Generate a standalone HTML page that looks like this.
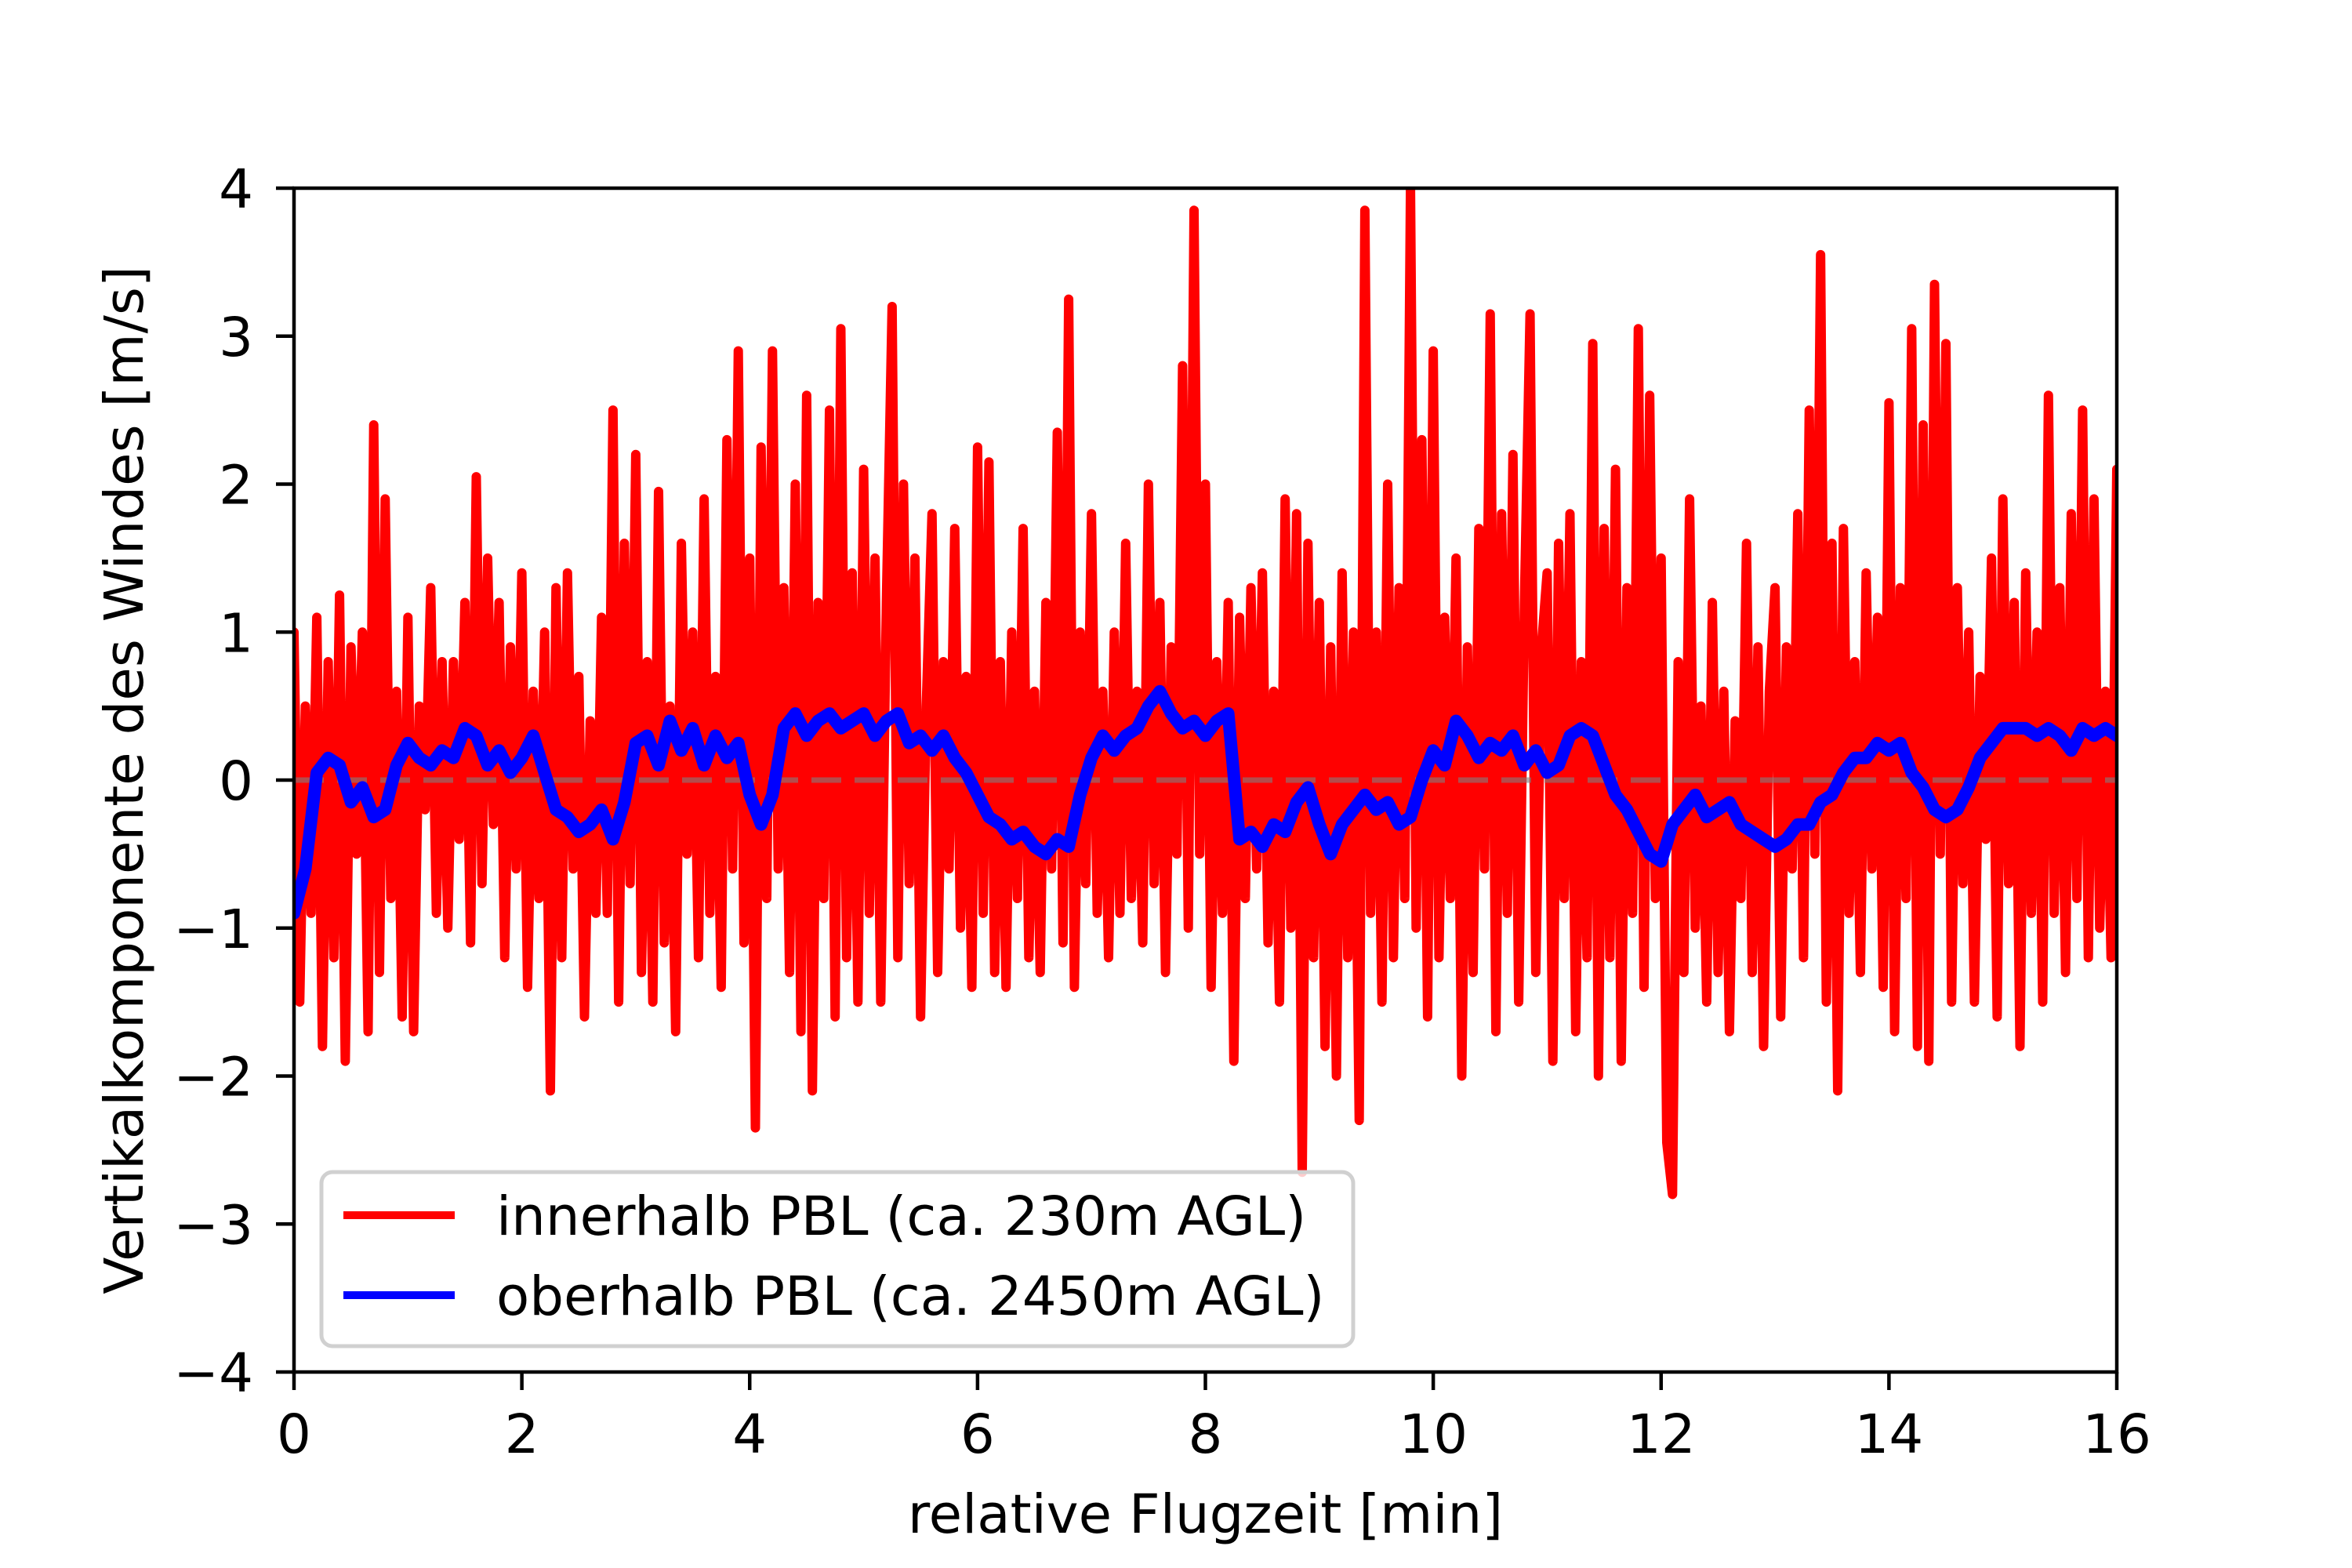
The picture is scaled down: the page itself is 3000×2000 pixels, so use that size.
<!DOCTYPE html>
<html><head><meta charset="utf-8"><style>
html,body{margin:0;padding:0;background:#fff}
svg{display:block}
text{font-family:"DejaVu Sans","Liberation Sans",sans-serif;fill:#000}
</style></head><body>
<svg id="chart" width="3000" height="2000" viewBox="0 0 3000 2000" xmlns="http://www.w3.org/2000/svg">
<defs><clipPath id="clip"><rect x="375" y="240" width="2325" height="1510"/></clipPath></defs>
<g id="plot" clip-path="url(#clip)"></g>
<g id="axes"></g>
</svg>
<script>
const xTicks=[0,2,4,6,8,10,12,14,16];
const yTicks=[-4,-3,-2,-1,0,1,2,3,4];
const redStep=0.05;
const redValues=[
1.0,-1.5,0.5,-0.9,1.1,-1.8,0.8,-1.2,1.25,-1.9,0.9,-0.5,1.0,-1.7,2.4,-1.3,1.9,-0.8,0.6,-1.6,
1.1,-1.7,0.5,-0.2,1.3,-0.9,0.8,-1.0,0.8,-0.4,1.2,-1.1,2.05,-0.7,1.5,-0.3,1.2,-1.2,0.9,-0.6,
1.4,-1.4,0.6,-0.8,1.0,-2.1,1.3,-1.2,1.4,-0.6,0.7,-1.6,0.4,-0.9,1.1,-0.9,2.5,-1.5,1.6,-0.7,
2.2,-1.3,0.8,-1.5,1.95,-1.1,0.5,-1.7,1.6,-0.5,1.0,-1.2,1.9,-0.9,0.7,-1.4,2.3,-0.6,2.9,-1.1,
1.5,-2.35,2.25,-0.8,2.9,-0.6,1.3,-1.3,2.0,-1.7,2.6,-2.1,1.2,-0.8,2.5,-1.6,3.05,-1.2,1.4,-1.5,
2.1,-0.9,1.5,-1.5,1.2,3.2,-1.2,2.0,-0.7,1.5,-1.6,0.5,1.8,-1.3,0.8,-0.6,1.7,-1.0,0.7,-1.4,
2.25,-0.9,2.15,-1.3,0.8,-1.4,1.0,-0.8,1.7,-1.2,0.6,-1.3,1.2,-0.6,2.35,-1.1,3.25,-1.4,1.0,-0.7,
1.8,-0.9,0.6,-1.2,1.0,-0.9,1.6,-0.8,0.6,-1.1,2.0,-0.7,1.2,-1.3,0.9,-0.5,2.8,-1.0,3.85,-0.5,
2.0,-1.4,0.8,-0.9,1.2,-1.9,1.1,-0.8,1.3,-0.6,1.4,-1.1,0.6,-1.5,1.9,-1.0,1.8,-2.65,1.6,-1.2,
1.2,-1.8,0.9,-2.0,1.4,-1.2,1.0,-2.3,3.85,-0.9,1.0,-1.5,2.0,-1.2,1.3,-0.8,4.0,-1.0,2.3,-1.6,
2.9,-1.2,1.1,-0.8,1.5,-2.0,0.9,-1.3,1.7,-0.6,3.15,-1.7,1.8,-0.9,2.2,-1.5,1.2,3.15,-1.3,0.9,
1.4,-1.9,1.6,-0.8,1.8,-1.7,0.8,-1.2,2.95,-2.0,1.7,-1.2,2.1,-1.9,1.3,-0.9,3.05,-1.4,2.6,-0.8,
1.5,-2.45,-2.8,0.8,-1.3,1.9,-1.0,0.5,-1.5,1.2,-1.3,0.6,-1.7,0.4,-0.8,1.6,-1.3,0.9,-1.8,0.6,
1.3,-1.6,0.9,-0.6,1.8,-1.2,2.5,-0.5,3.55,-1.5,1.6,-2.1,1.7,-0.9,0.8,-1.3,1.4,-0.6,1.1,-1.4,
2.55,-1.7,1.3,-0.8,3.05,-1.8,2.4,-1.9,3.35,-0.5,2.95,-1.5,1.3,-0.7,1.0,-1.5,0.7,-0.4,1.5,-1.6,
1.9,-0.7,1.2,-1.8,1.4,-0.9,1.0,-1.5,2.6,-0.9,1.3,-1.3,1.8,-0.8,2.5,-1.2,1.9,-1.0,0.6,-1.2,
2.1];
const blueStep=0.1;
const blueValues=[
-0.9,-0.6,0.05,0.15,0.1,-0.15,-0.05,-0.25,-0.2,0.1,
0.25,0.15,0.1,0.2,0.15,0.35,0.3,0.1,0.2,0.05,
0.15,0.3,0.05,-0.2,-0.25,-0.35,-0.3,-0.2,-0.4,-0.15,
0.25,0.3,0.1,0.4,0.2,0.35,0.1,0.3,0.15,0.25,
-0.1,-0.3,-0.1,0.35,0.45,0.3,0.4,0.45,0.35,0.4,
0.45,0.3,0.4,0.45,0.25,0.3,0.2,0.3,0.15,0.05,
-0.1,-0.25,-0.3,-0.4,-0.35,-0.45,-0.5,-0.4,-0.45,-0.1,
0.15,0.3,0.2,0.3,0.35,0.5,0.6,0.45,0.35,0.4,
0.3,0.4,0.45,-0.4,-0.35,-0.45,-0.3,-0.35,-0.15,-0.05,
-0.3,-0.5,-0.3,-0.2,-0.1,-0.2,-0.15,-0.3,-0.25,0.0,
0.2,0.1,0.4,0.3,0.15,0.25,0.2,0.3,0.1,0.2,
0.05,0.1,0.3,0.35,0.3,0.1,-0.1,-0.2,-0.35,-0.5,
-0.55,-0.3,-0.2,-0.1,-0.25,-0.2,-0.15,-0.3,-0.35,-0.4,
-0.45,-0.4,-0.3,-0.3,-0.15,-0.1,0.05,0.15,0.15,0.25,
0.2,0.25,0.05,-0.05,-0.2,-0.25,-0.2,-0.05,0.15,0.25,
0.35,0.35,0.35,0.3,0.35,0.3,0.2,0.35,0.3,0.35,
0.3];
const legendLabels=["innerhalb PBL (ca. 230m AGL)","oberhalb PBL (ca. 2450m AGL)"];

const L=375,R=2700,T=240,B=1750;
const xMin=0,xMax=16,yMin=-4,yMax=4;
function sx(v){return L+(v-xMin)/(xMax-xMin)*(R-L);}
function sy(v){return B-(v-yMin)/(yMax-yMin)*(B-T);}
const NS="http://www.w3.org/2000/svg";
function mk(tag,attrs,parent){const e=document.createElementNS(NS,tag);for(const k in attrs)e.setAttribute(k,attrs[k]);parent.appendChild(e);return e;}
const plot=document.getElementById('plot'),axes=document.getElementById('axes');

function pathFrom(vals,step){return vals.map((v,i)=>(i?'L':'M')+sx(i*step).toFixed(1)+','+sy(v).toFixed(1)).join('');}
const red=mk('path',{d:pathFrom(redValues,redStep),fill:'none',stroke:'#ff0000','stroke-width':12,'stroke-linejoin':'round','stroke-linecap':'round'},plot);


const zero=mk('line',{x1:L,x2:R,y1:sy(0),y2:sy(0),stroke:'#808080','stroke-opacity':0.6,'stroke-width':7,'stroke-dasharray':'38,17'},plot);


const blue=mk('path',{d:pathFrom(blueValues,blueStep),fill:'none',stroke:'#0000ff','stroke-width':16,'stroke-linejoin':'round','stroke-linecap':'round'},plot);



const frame=mk('rect',{x:L,y:T,width:R-L,height:B-T,fill:'none',stroke:'#000','stroke-width':4.5},axes);



xTicks.forEach(v=>{
  const t=mk('line',{x1:sx(v),x2:sx(v),y1:B,y2:B+23,stroke:'#000','stroke-width':4.5},axes);
  
  
  const lb=mk('text',{x:sx(v),y:1853,'font-size':69,'text-anchor':'middle'},axes);
  lb.textContent=String(v);
  
  
});
yTicks.forEach(v=>{
  const t=mk('line',{x1:L-23,x2:L,y1:sy(v),y2:sy(v),stroke:'#000','stroke-width':4.5},axes);
  
  
  const lb=mk('text',{x:323,y:sy(v)+25,'font-size':69,'text-anchor':'end'},axes);
  lb.textContent=v<0?'\u2212'+Math.abs(v):String(v);
  
  
});
const xl=mk('text',{x:(L+R)/2,y:1955,'font-size':69,'text-anchor':'middle'},axes);
xl.textContent='relative Flugzeit [min]';


const yl=mk('text',{x:0,y:0,'font-size':69,'text-anchor':'middle',transform:'translate(182,'+((T+B)/2)+') rotate(-90)'},axes);
yl.textContent='Vertikalkomponente des Windes [m/s]';



const lg=mk('g',{},axes);


mk('rect',{x:410,y:1495,width:1316,height:222,rx:14,fill:'#fff','fill-opacity':0.8,stroke:'#d0d0d0','stroke-width':5},lg);
const cols=['#ff0000','#0000ff'];
const ly=[1550,1652];
legendLabels.forEach((s,i)=>{
  const ln=mk('line',{x1:438,x2:580,y1:ly[i],y2:ly[i],stroke:cols[i],'stroke-width':10},lg);
  
  
  const tx=mk('text',{x:633,y:ly[i]+25,'font-size':69},lg);
  tx.textContent=s;
  
  
});
</script>
</body></html>
